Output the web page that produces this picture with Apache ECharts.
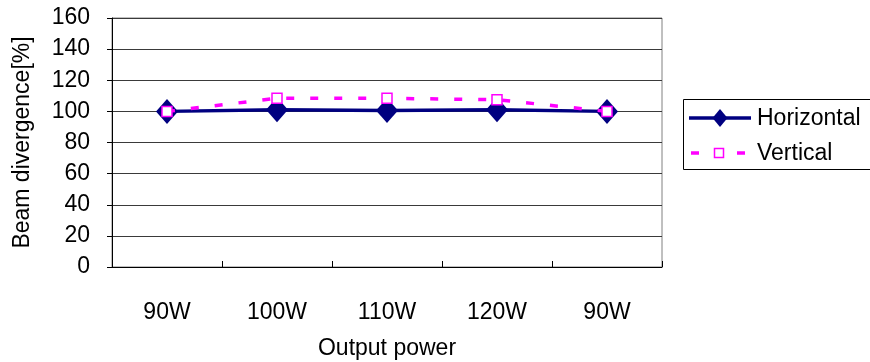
<!DOCTYPE html>
<html>
<head>
<meta charset="utf-8">
<script src="https://cdn.jsdelivr.net/npm/echarts@6/dist/echarts.min.js"></script>
<style>
  html, body { margin: 0; padding: 0; background: #fff; }
  #chart { width: 870px; height: 362px; }
</style>
</head>
<body>
<div id="chart"></div>
<script>
// Output power settings (the last one repeats 90W)
const categories = ['90W', '100W', '110W', '120W', '90W'];
// Beam divergence relative to the 90W reference, percent
const horizontal = [100, 101, 100.6, 101, 100];
const vertical = [100, 108.4, 108.4, 107.5, 100];
const seriesNames = ['Horizontal', 'Vertical'];
const yTicks = { min: 0, max: 160, interval: 20 };

const FONT = 'Liberation Sans, Arial, sans-serif';
const FS = 23;
const NAVY = '#000080';
const MAGENTA = '#ff00ff';

// Boxed key on the right: line sample, marker and series name per row
function legendGraphic() {
  const x0 = 683, y0 = 99, rowY = [118, 153];
  const lineL = 689, lineR = 751, mid = 720, textX = 757;
  return [
    { type: 'rect', shape: { x: x0 + 0.5, y: y0 + 0.5, width: 200, height: 70 },
      style: { fill: '#fff', stroke: '#000', lineWidth: 1 }, z: 10 },
    { type: 'line', shape: { x1: lineL, y1: rowY[0], x2: lineR, y2: rowY[0] },
      style: { stroke: NAVY, lineWidth: 3.5 }, z: 11 },
    { type: 'polygon', shape: { points: [[mid, rowY[0] - 9], [mid + 7.5, rowY[0]], [mid, rowY[0] + 9], [mid - 7.5, rowY[0]]] },
      style: { fill: NAVY }, z: 12 },
    { type: 'text', x: textX, y: rowY[0] + 1,
      style: { text: seriesNames[0], font: FS + 'px ' + FONT, fill: '#000', verticalAlign: 'middle' }, z: 12 },
    { type: 'line', shape: { x1: lineL + 2, y1: rowY[1], x2: lineR - 4, y2: rowY[1] },
      style: { stroke: MAGENTA, lineWidth: 3.5, lineDash: [8, 38] }, z: 11 },
    { type: 'rect', shape: { x: mid - 5.5, y: rowY[1] - 4.5, width: 9, height: 9 },
      style: { fill: '#fff', stroke: MAGENTA, lineWidth: 1.5 }, z: 12 },
    { type: 'text', x: textX, y: rowY[1] + 1,
      style: { text: seriesNames[1], font: FS + 'px ' + FONT, fill: '#000', verticalAlign: 'middle' }, z: 12 }
  ];
}

const chart = echarts.init(document.getElementById('chart'), null, { renderer: 'canvas' });

chart.setOption({
  animation: false,
  backgroundColor: '#ffffff',
  textStyle: { fontFamily: FONT },
  grid: {
    left: 112, right: 208, top: 18, bottom: 95,
    outerBoundsMode: 'none',
    containLabel: false,
    show: true, borderColor: '#808080', borderWidth: 1, backgroundColor: 'transparent'
  },
  graphic: legendGraphic(),
  xAxis: {
    type: 'category',
    data: categories,
    boundaryGap: true,
    name: 'Output power',
    nameLocation: 'middle',
    nameGap: 70,
    nameTextStyle: { fontFamily: FONT, fontSize: FS, color: '#000' },
    axisLine: { lineStyle: { color: '#000', width: 1 } },
    axisTick: { show: true, inside: true, length: 6, lineStyle: { color: '#000' } },
    axisLabel: { margin: 34, fontFamily: FONT, fontSize: FS, color: '#000' },
    splitLine: { show: false }
  },
  yAxis: {
    type: 'value',
    min: yTicks.min, max: yTicks.max, interval: yTicks.interval,
    name: 'Beam divergence[%]',
    nameLocation: 'middle',
    nameGap: 78,
    nameTextStyle: { fontFamily: FONT, fontSize: FS, color: '#000' },
    axisLine: { show: true, lineStyle: { color: '#000', width: 1 } },
    axisTick: { show: true, inside: false, length: 5, lineStyle: { color: '#000' } },
    axisLabel: { margin: 22, fontFamily: FONT, fontSize: FS, color: '#000' },
    splitLine: { show: true, lineStyle: { color: '#3a3a3a', width: 1 } }
  },
  series: [
    {
      name: seriesNames[0],
      type: 'line',
      data: horizontal,
      z: 2,
      symbol: 'diamond',
      symbolSize: [22, 25],
      itemStyle: { color: NAVY },
      lineStyle: { color: NAVY, width: 3.5 }
    },
    {
      name: seriesNames[1],
      type: 'line',
      data: vertical,
      z: 3,
      symbol: 'rect',
      symbolSize: 10,
      itemStyle: { color: '#ffffff', borderColor: MAGENTA, borderWidth: 1.5 },
      lineStyle: { color: MAGENTA, width: 3.5, type: [8, 16] }
    }
  ]
});
</script>
</body>
</html>
